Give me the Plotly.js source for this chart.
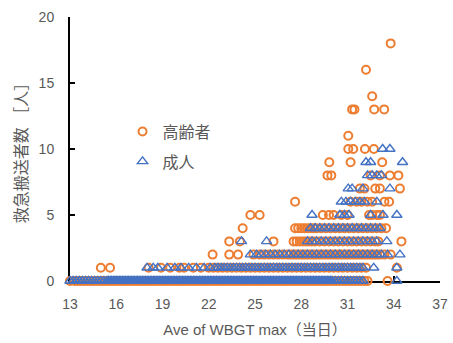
<!DOCTYPE html>
<html>
<head>
<meta charset="utf-8">
<script src="https://cdn.plot.ly/plotly-3.0.1.min.js"></script>
<style>html,body{margin:0;padding:0;background:#fff;}#chart{width:453px;height:343px;}</style>
</head>
<body>
<div id="chart"></div>
<script>
// Series names
const seriesNames = ["高齢者", "成人"];
const xTickVals = [13, 16, 19, 22, 25, 28, 31, 34, 37];
const yTickVals = [0, 5, 10, 15, 20];

// 高齢者 (elderly): x values (Ave of WBGT max) grouped by number of transports
const eld0 = [13,13.3,13.5,13.7,13.9,14.1,14.3,14.5,14.7,14.9,15.1,15.3,15.5,15.7,15.9,16.1,16.3,16.5,16.7,16.9,17.1,17.3,17.5,17.7,17.9,18.1,18.3,18.5,18.7,18.9,19.1,19.3,19.5,19.7,19.9,20.1,20.3,20.5,20.7,20.9,21.1,21.3,21.5,21.7,21.9,22.1,22.3,22.5,22.7,22.9,23.1,23.3,23.5,23.7,23.9,24.1,24.3,24.5,24.7,24.9,25.1,25.3,25.5,25.7,25.9,26.1,26.3,26.5,26.7,26.9,27.1,27.3,27.5,27.7,27.9,28.1,28.3,28.5,28.7,28.9,29.1,29.3,29.5,29.7,29.9,30.1,30.3,30.5,30.7,30.9,31.1,31.3,31.5,31.7,31.9,32.1,32.3,33.6];
const eld1 = [15,15.6,18.1,18.9,19.5,20.1,20.4,21,21.5,22,22.3,22.6,22.9,23.2,23.5,23.8,24.1,24.4,24.7,25,25.3,25.6,25.9,26.2,26.5,26.8,27.1,27.4,27.7,28,28.3,28.6,28.9,29.2,29.5,29.8,30.1,30.4,30.7,31,31.3,31.6,31.9,32.2,34.2];
const eld2 = [22.25,23.33,23.9,24.9,25.3,25.6,25.9,26.2,26.5,26.8,27.1,27.3,27.5,27.7,27.9,28.1,28.3,28.5,28.7,28.9,29.1,29.3,29.5,29.7,29.9,30.1,30.3,30.5,30.7,30.9,31.1,31.3,31.5,31.7,31.9,32.1,32.3,32.5,32.7,32.9,33.1,33.4,33.8];
const eld3 = [23.33,24.02,26.2,27.5,27.7,27.9,28.1,28.3,28.5,28.7,28.9,29.2,29.5,29.8,30.1,30.4,30.7,31,31.3,31.6,31.9,32.2,32.5,32.8,33,34.5];
const eld4 = [24.2,27.6,27.8,28,28.2,28.4,28.6,28.8,29,29.3,29.6,29.9,30.2,30.5,30.8,31.1,31.4,31.7,32,32.3,32.6,32.9,33.2,33.5];
const eld5 = [24.7,25.3,29.4,29.8,30.1,30.6,31,32.4,32.6,32.9,33.1];
const eld6 = [27.6,31.2,31.6,31.9,32.3,32.6,33.4,33.7];
const eld7 = [31.8,32.1,32.8,33.1,34.4];
const eld8 = [29.7,29.95,32.5,33.1,33.75,34.3];
const eld9 = [29.82,31.2,33.25];
const eld10 = [31.05,31.37,32.13,32.71];
const eld11 = [31.05];
const eld13 = [31.3,31.45,32.73,33.38];
const eld14 = [32.6];
const eld16 = [32.2];
const eld18 = [33.8];

// 成人 (adults)
const adu0 = [13,13.2,13.4,13.6,13.8,14,14.2,14.4,14.6,14.8,15,15.2,15.4,15.5,15.6,15.7,15.8,15.9,
16,16.1,16.2,16.3,16.4,16.5,16.6,16.7,16.8,16.9,17,17.1,17.2,17.3,17.4,17.5,17.6,17.7,17.8,17.9,
18,18.1,18.2,18.3,18.4,18.5,18.6,18.7,18.8,18.9,19,19.1,19.2,19.3,19.4,19.5,19.6,19.7,19.8,19.9,
20,20.1,20.2,20.3,20.4,20.5,20.6,20.7,20.8,20.9,21,21.1,21.2,21.3,21.4,21.5,21.6,21.7,21.8,21.9,
22,22.1,22.2,22.3,22.4,22.5,22.6,22.7,22.8,22.9,23,23.1,23.2,23.3,23.4,23.5,23.6,23.7,23.8,23.9,
24,24.1,24.2,24.3,24.4,24.5,24.6,24.7,24.8,24.9,25,25.1,25.2,25.3,25.4,25.5,25.6,25.7,25.8,25.9,
26,26.1,26.2,26.3,26.4,26.5,26.6,26.7,26.8,26.9,27,27.1,27.2,27.3,27.4,27.5,27.6,27.7,27.8,27.9,
28,28.1,28.2,28.3,28.4,28.5,28.6,28.7,28.8,28.9,29,29.1,29.2,29.3,29.4,29.5,29.6,29.7,29.8,29.9,
30,30.2,30.4,30.6,30.8,31,31.2,31.4,31.6,31.8,32,34.2];
const adu1 = [18,18.4,18.7,19.3,19.8,20.2,20.7,21.2,21.7,22.1,22.4,22.6,22.8,23,23.2,23.4,23.6,23.8,24,24.2,24.4,24.6,24.8,25,25.2,25.4,25.6,25.8,26,26.2,26.4,26.6,26.8,27,27.2,27.4,27.6,27.8,28,28.2,28.4,28.6,28.8,29,29.2,29.4,29.6,29.8,30,30.2,30.4,30.6,30.8,31,31.2,31.4,31.6,31.8,32,32.7,34.2];
const adu2 = [24.7,25.1,25.4,25.7,26,26.3,26.6,26.9,27.2,27.5,27.8,28.1,28.4,28.7,29,29.3,29.6,29.9,30.2,30.5,30.8,31.1,31.4,31.7,32,32.3,32.6,32.9,33.2,33.6,34.4];
const adu3 = [24.13,25.75,28.4,28.7,29,29.3,29.6,29.9,30.2,30.5,30.8,31.1,31.4,31.7,32,32.3,32.6,32.9,33.55];
const adu4 = [28.6,28.9,29.2,29.5,29.8,30.1,30.4,30.7,31,31.3,31.6,31.9,32.2,32.5,32.8,33.1];
const adu5 = [28.7,30.5,30.8,31.1,32.5,33.3,34.2];
const adu6 = [30.6,30.9,31.2,31.5,31.8,32.1,32.9];
const adu7 = [31.05,31.3,32,33.75];
const adu8 = [32.3,32.6,32.9,33.2];
const adu9 = [32.2,32.5,34.57];
const adu10 = [33.28,33.75];

// Build x/y lists from the grouped arrays
function build(groups) {
  const xs = [], ys = [];
  groups.forEach(([count, arr]) => arr.forEach(v => { xs.push(v); ys.push(count); }));
  return {xs, ys};
}
const eld = build([[0,eld0],[1,eld1],[2,eld2],[3,eld3],[4,eld4],[5,eld5],[6,eld6],[7,eld7],[8,eld8],[9,eld9],[10,eld10],[11,eld11],[13,eld13],[14,eld14],[16,eld16],[18,eld18]]);
const adu = build([[0,adu0],[1,adu1],[2,adu2],[3,adu3],[4,adu4],[5,adu5],[6,adu6],[7,adu7],[8,adu8],[9,adu9],[10,adu10]]);

const FONT = "Liberation Sans, Noto Sans CJK JP, sans-serif";
const GRAY = "#595959";

const traces = [
  {x: eld.xs, y: eld.ys, type: "scatter", mode: "markers", name: seriesNames[0], legendgroup: "a",
   cliponaxis: false,
   marker: {symbol: "circle-open", size: 8, color: "#ED7D31", line: {width: 2, color: "#ED7D31"}}},
  {x: adu.xs, y: adu.ys, type: "scatter", mode: "markers", name: seriesNames[1], legendgroup: "b",
   cliponaxis: false,
   marker: {symbol: "triangle-up-open", size: 9, color: "#4472C4", line: {width: 1.4, color: "#4472C4"}}}
];

const layout = {
  width: 453, height: 343,
  margin: {l: 70, r: 13, t: 17, b: 62},
  paper_bgcolor: "#fff", plot_bgcolor: "#fff",
  font: {family: FONT, color: GRAY, size: 14},
  showlegend: true,
  legend: {x: 0.142, y: 0.63, xanchor: "left", yanchor: "top", bgcolor: "rgba(0,0,0,0)",
           font: {family: FONT, size: 16, color: GRAY}, traceorder: "grouped", tracegroupgap: 6},
  xaxis: {range: [13, 37], tickvals: xTickVals, ticktext: xTickVals.map(String),
          showgrid: false, zeroline: false, showline: true, linecolor: "#000", linewidth: 1.5,
          ticks: "inside", ticklen: 5, tickwidth: 1.5, tickcolor: "#000", layer: "below traces",
          ticklabelstandoff: 10,
          tickfont: {family: FONT, size: 14, color: GRAY}, automargin: false,
          title: {text: "Ave of WBGT max（当日）", font: {family: FONT, size: 15, color: GRAY}, standoff: 13}},
  yaxis: {range: [0, 20], tickvals: yTickVals, ticktext: yTickVals.map(String),
          showgrid: false, zeroline: false, showline: true, linecolor: "#000", linewidth: 2,
          ticks: "inside", ticklen: 5, tickwidth: 1.5, tickcolor: "#000", layer: "below traces",
          ticklabelstandoff: 11,
          tickfont: {family: FONT, size: 14, color: GRAY}, automargin: false,
          title: {text: "救急搬送者数 ［人］\u00A0\u00A0\u00A0\u00A0", font: {family: FONT, size: 16, color: GRAY}, standoff: 7}}
};

Plotly.newPlot("chart", traces, layout, {displayModeBar: false, staticPlot: true});
</script>
</body>
</html>
